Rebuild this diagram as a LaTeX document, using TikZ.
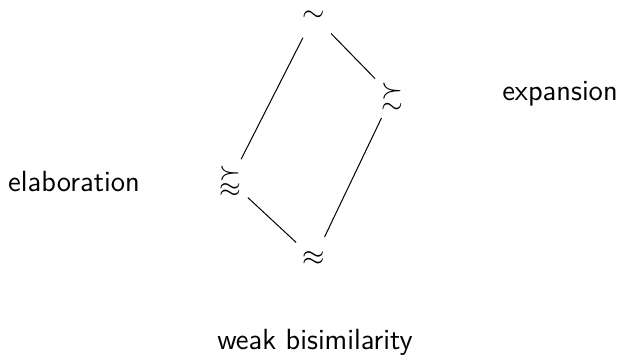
\documentclass[tikz,border=0pt]{standalone}
\usepackage{amssymb}
\begin{document}
\begin{tikzpicture}[x=0.5pt,y=-0.5pt,
  rel/.style={circle,inner sep=0pt,minimum size=24pt,font=\fontsize{14}{16}\selectfont},
  lbl/.style={font=\sffamily\fontsize{14.6}{17}\selectfont,inner sep=0pt},
  conn/.style={line width=0.5pt}]
\useasboundingbox (0,0) rectangle (623,355);
\node[rel] (top) at (314,16) {$\sim$};
\node[rel] (right) at (392,96) {$\succsim$};
\node[rel] (left) at (230,181) {$\succapprox$};
\node[rel] (bot) at (314,259) {$\approx$};
\draw[conn] (top) -- (left);
\draw[conn] (top) -- (right);
\draw[conn] (right) -- (bot);
\draw[conn] (left) -- (bot);
\node[lbl] (exp) at (560,94) {expansion};
\node[lbl] (ela) at (74,182) {elaboration};
\node[lbl] (weak) at (315,342) {weak bisimilarity};
\end{tikzpicture}
\end{document}
